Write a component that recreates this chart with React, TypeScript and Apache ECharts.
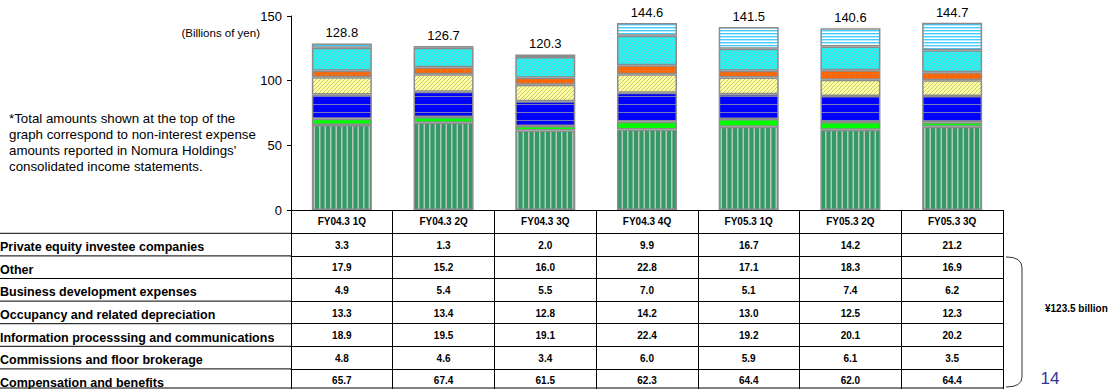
import React, { useEffect, useRef } from "react";
import * as echarts from "echarts";

const categories = ["FY04.3 1Q", "FY04.3 2Q", "FY04.3 3Q", "FY04.3 4Q", "FY05.3 1Q", "FY05.3 2Q", "FY05.3 3Q"];
const compensation = [65.7, 67.4, 61.5, 62.3, 64.4, 62.0, 64.4];
const commissions = [4.8, 4.6, 3.4, 6.0, 5.9, 6.1, 3.5];
const infoProcessing = [18.9, 19.5, 19.1, 22.4, 19.2, 20.1, 20.2];
const occupancy = [13.3, 13.4, 12.8, 14.2, 13.0, 12.5, 12.3];
const businessDev = [4.9, 5.4, 5.5, 7.0, 5.1, 7.4, 6.2];
const other = [17.9, 15.2, 16.0, 22.8, 17.1, 18.3, 16.9];
const privateEquity = [3.3, 1.3, 2.0, 9.9, 16.7, 14.2, 21.2];
const totals = [128.8, 126.7, 120.3, 144.6, 141.5, 140.6, 144.7];
const yTicks = [0, 50, 100, 150];

const rowNames = [
  "Private equity investee companies",
  "Other",
  "Business development expenses",
  "Occupancy and related depreciation",
  "Information processsing and communications",
  "Commissions and floor brokerage",
  "Compensation and benefits",
];
const rowValues = [privateEquity, other, businessDev, occupancy, infoProcessing, commissions, compensation];

const noteLines = [
  "*Total amounts shown at the top of the",
  "graph correspond to non-interest expense",
  "amounts reported in Nomura Holdings'",
  "consolidated income statements.",
];
const unitLabel = "(Billions of yen)";
const braceLabel = "¥123.5 billion";
const pageNumber = "14";

const FONT = "'Liberation Sans', Arial, sans-serif";

function makePattern(w: number, h: number, draw: (ctx: CanvasRenderingContext2D) => void) {
  const c = document.createElement("canvas");
  c.width = w;
  c.height = h;
  const ctx = c.getContext("2d") as CanvasRenderingContext2D;
  draw(ctx);
  return { image: c, repeat: "repeat" } as any;
}

function diag(ctx: CanvasRenderingContext2D, w: number, h: number, color: string) {
  ctx.strokeStyle = color;
  ctx.lineWidth = 1;
  ctx.beginPath();
  ctx.moveTo(-1, h + 1);
  ctx.lineTo(w + 1, -1);
  ctx.moveTo(-1 - w, h + 1);
  ctx.lineTo(1, -1);
  ctx.moveTo(w - 1, h + 1);
  ctx.lineTo(2 * w + 1, -1);
  ctx.stroke();
}

export default function App() {
  const ref = useRef<HTMLDivElement>(null);

  useEffect(() => {
    if (!ref.current) return;
    const chart = echarts.init(ref.current, null, { renderer: "svg" });

    const compFill = makePattern(11, 4, (ctx) => {
      ctx.fillStyle = "#339966";
      ctx.fillRect(0, 0, 11, 4);
      ctx.fillStyle = "#B4C8BA";
      ctx.fillRect(0, 0, 1.5, 4);
      ctx.fillRect(5.5, 0, 1.5, 4);
    });
    const infoFill = makePattern(4, 8, (ctx) => {
      ctx.fillStyle = "#0000FF";
      ctx.fillRect(0, 0, 4, 8);
      ctx.fillStyle = "#7878B8";
      ctx.fillRect(0, 0, 4, 1);
    });
    const occFill = makePattern(4, 4, (ctx) => {
      ctx.fillStyle = "#FFFF99";
      ctx.fillRect(0, 0, 4, 4);
      diag(ctx, 4, 4, "#C4C48C");
    });
    const bizFill = makePattern(6, 4, (ctx) => {
      ctx.fillStyle = "#FF6600";
      ctx.fillRect(0, 0, 6, 4);
      ctx.fillStyle = "#C89070";
      ctx.fillRect(2, 2, 1, 1);
    });
    const otherFill = makePattern(5, 5, (ctx) => {
      ctx.fillStyle = "#22F2F2";
      ctx.fillRect(0, 0, 5, 5);
      diag(ctx, 5, 5, "#88C4C4");
    });
    const peFill = makePattern(4, 3, (ctx) => {
      ctx.fillStyle = "#FFFFFF";
      ctx.fillRect(0, 0, 4, 3);
      ctx.fillStyle = "#44CCFF";
      ctx.fillRect(0, 0, 4, 1.4);
    });

    const stackOrder = [
      { name: rowNames[6], data: compensation, fill: compFill },
      { name: rowNames[5], data: commissions, fill: "#00FF00" },
      { name: rowNames[4], data: infoProcessing, fill: infoFill },
      { name: rowNames[3], data: occupancy, fill: occFill },
      { name: rowNames[2], data: businessDev, fill: bizFill },
      { name: rowNames[1], data: other, fill: otherFill },
      { name: rowNames[0], data: privateEquity, fill: peFill },
    ];

    const headerH = 23.3;
    const rowH = 22.6;
    const axisY = 210;
    const gridLeft = 291;
    const gridRight = 1003;

    const labelStyle = { fontFamily: FONT, fontSize: 10, fontWeight: "bold" as const, color: "#000" };

    const xAxes: any[] = [
      {
        type: "category",
        data: categories,
        gridIndex: 0,
        position: "bottom",
        axisLine: { show: true, lineStyle: { color: "#000", width: 1 } },
        axisTick: { show: true, length: headerH, interval: 0, lineStyle: { color: "#000", width: 1 } },
        axisLabel: { interval: 0, margin: 6, ...labelStyle },
      },
      ...rowValues.map((vals, i) => ({
        type: "category",
        data: categories,
        gridIndex: 0,
        position: "bottom",
        offset: headerH + rowH * i,
        axisLine: { show: true, lineStyle: { color: "#000", width: 1 } },
        axisTick: { show: true, length: rowH, interval: 0, lineStyle: { color: "#000", width: 1 } },
        axisLabel: {
          interval: 0,
          margin: 7,
          ...labelStyle,
          formatter: (_v: string, idx: number) => vals[idx].toFixed(1),
        },
      })),
    ];

    const graphics: any[] = [];
    for (let i = 0; i < rowNames.length; i++) {
      const top = axisY + headerH + rowH * i;
      graphics.push({
        type: "line",
        shape: { x1: 0, y1: top, x2: gridLeft, y2: top },
        style: { stroke: "#000", lineWidth: 1 },
        silent: true,
      });
      graphics.push({
        type: "text",
        x: 0,
        y: top + 13.8,
        style: {
          text: rowNames[i],
          fontFamily: FONT,
          fontSize: 12.5,
          fontWeight: "bold",
          fill: "#000",
          verticalAlign: "middle",
          align: "left",
        },
        silent: true,
      });
    }
    const bottom = 388;
    graphics.push({
      type: "line",
      shape: { x1: 0, y1: bottom, x2: gridRight, y2: bottom },
      style: { stroke: "#000", lineWidth: 1 },
      silent: true,
    });
    graphics.push({
      type: "text",
      x: 260,
      y: 33,
      style: { text: unitLabel, fontFamily: FONT, fontSize: 11.5, fill: "#000", align: "right", verticalAlign: "middle" },
      silent: true,
    });
    graphics.push({
      type: "text",
      x: 9,
      y: 110,
      style: {
        text: noteLines.join("\n"),
        fontFamily: FONT,
        fontSize: 13.3,
        lineHeight: 16,
        fill: "#000",
        align: "left",
        verticalAlign: "top",
      },
      silent: true,
    });
    const bTop = axisY + headerH + rowH;
    const bBot = bottom;
    graphics.push({
      type: "bezierCurve",
      shape: { x1: 1006, y1: bTop + 1, cpx1: 1022, cpy1: bTop + 1, x2: 1022, y2: bTop + 12 },
      style: { stroke: "#333", lineWidth: 1, fill: "none" },
      silent: true,
    });
    graphics.push({
      type: "line",
      shape: { x1: 1022, y1: bTop + 12, x2: 1022, y2: bBot - 11 },
      style: { stroke: "#333", lineWidth: 1 },
      silent: true,
    });
    graphics.push({
      type: "bezierCurve",
      shape: { x1: 1022, y1: bBot - 11, cpx1: 1022, cpy1: bBot - 1, x2: 1006, y2: bBot - 1 },
      style: { stroke: "#333", lineWidth: 1, fill: "none" },
      silent: true,
    });
    graphics.push({
      type: "text",
      x: 1045,
      y: 308,
      style: { text: braceLabel, fontFamily: FONT, fontSize: 10, fontWeight: "bold", fill: "#000", align: "left", verticalAlign: "middle" },
      silent: true,
    });
    graphics.push({
      type: "text",
      x: 1050,
      y: 378,
      style: { text: pageNumber, fontFamily: FONT, fontSize: 17, fill: "#333399", align: "center", verticalAlign: "middle" },
      silent: true,
    });

    const series: any[] = stackOrder.map((s, i) => ({
      type: "bar",
      name: s.name,
      stack: "total",
      data: s.data,
      xAxisIndex: 0,
      yAxisIndex: 0,
      barWidth: "59%",
      itemStyle: { color: s.fill, borderColor: "#8C8C8C", borderWidth: 1.5 },
      label:
        i === stackOrder.length - 1
          ? {
              show: true,
              position: "top",
              distance: 4,
              fontFamily: FONT,
              fontSize: 13,
              color: "#000",
              formatter: (p: any) => totals[p.dataIndex].toFixed(1),
            }
          : { show: false },
      emphasis: { disabled: true },
    }));

    chart.setOption({
      animation: false,
      backgroundColor: "#fff",
      grid: { left: gridLeft, right: 1113 - gridRight, top: 16, bottom: 389 - axisY, containLabel: false },
      xAxis: xAxes,
      yAxis: {
        type: "value",
        min: yTicks[0],
        max: yTicks[yTicks.length - 1],
        interval: 50,
        axisLine: { show: true, lineStyle: { color: "#000", width: 1 } },
        axisTick: { show: true, length: 4, lineStyle: { color: "#000" } },
        axisLabel: { margin: 9, fontFamily: FONT, fontSize: 13, color: "#000" },
        splitLine: { show: false },
      },
      series,
      graphic: graphics,
    });

    return () => chart.dispose();
  }, []);

  return (
    <div
      ref={ref}
      style={{ position: "fixed", left: 0, top: 0, width: 1113, height: 389, background: "#fff" }}
    />
  );
}
